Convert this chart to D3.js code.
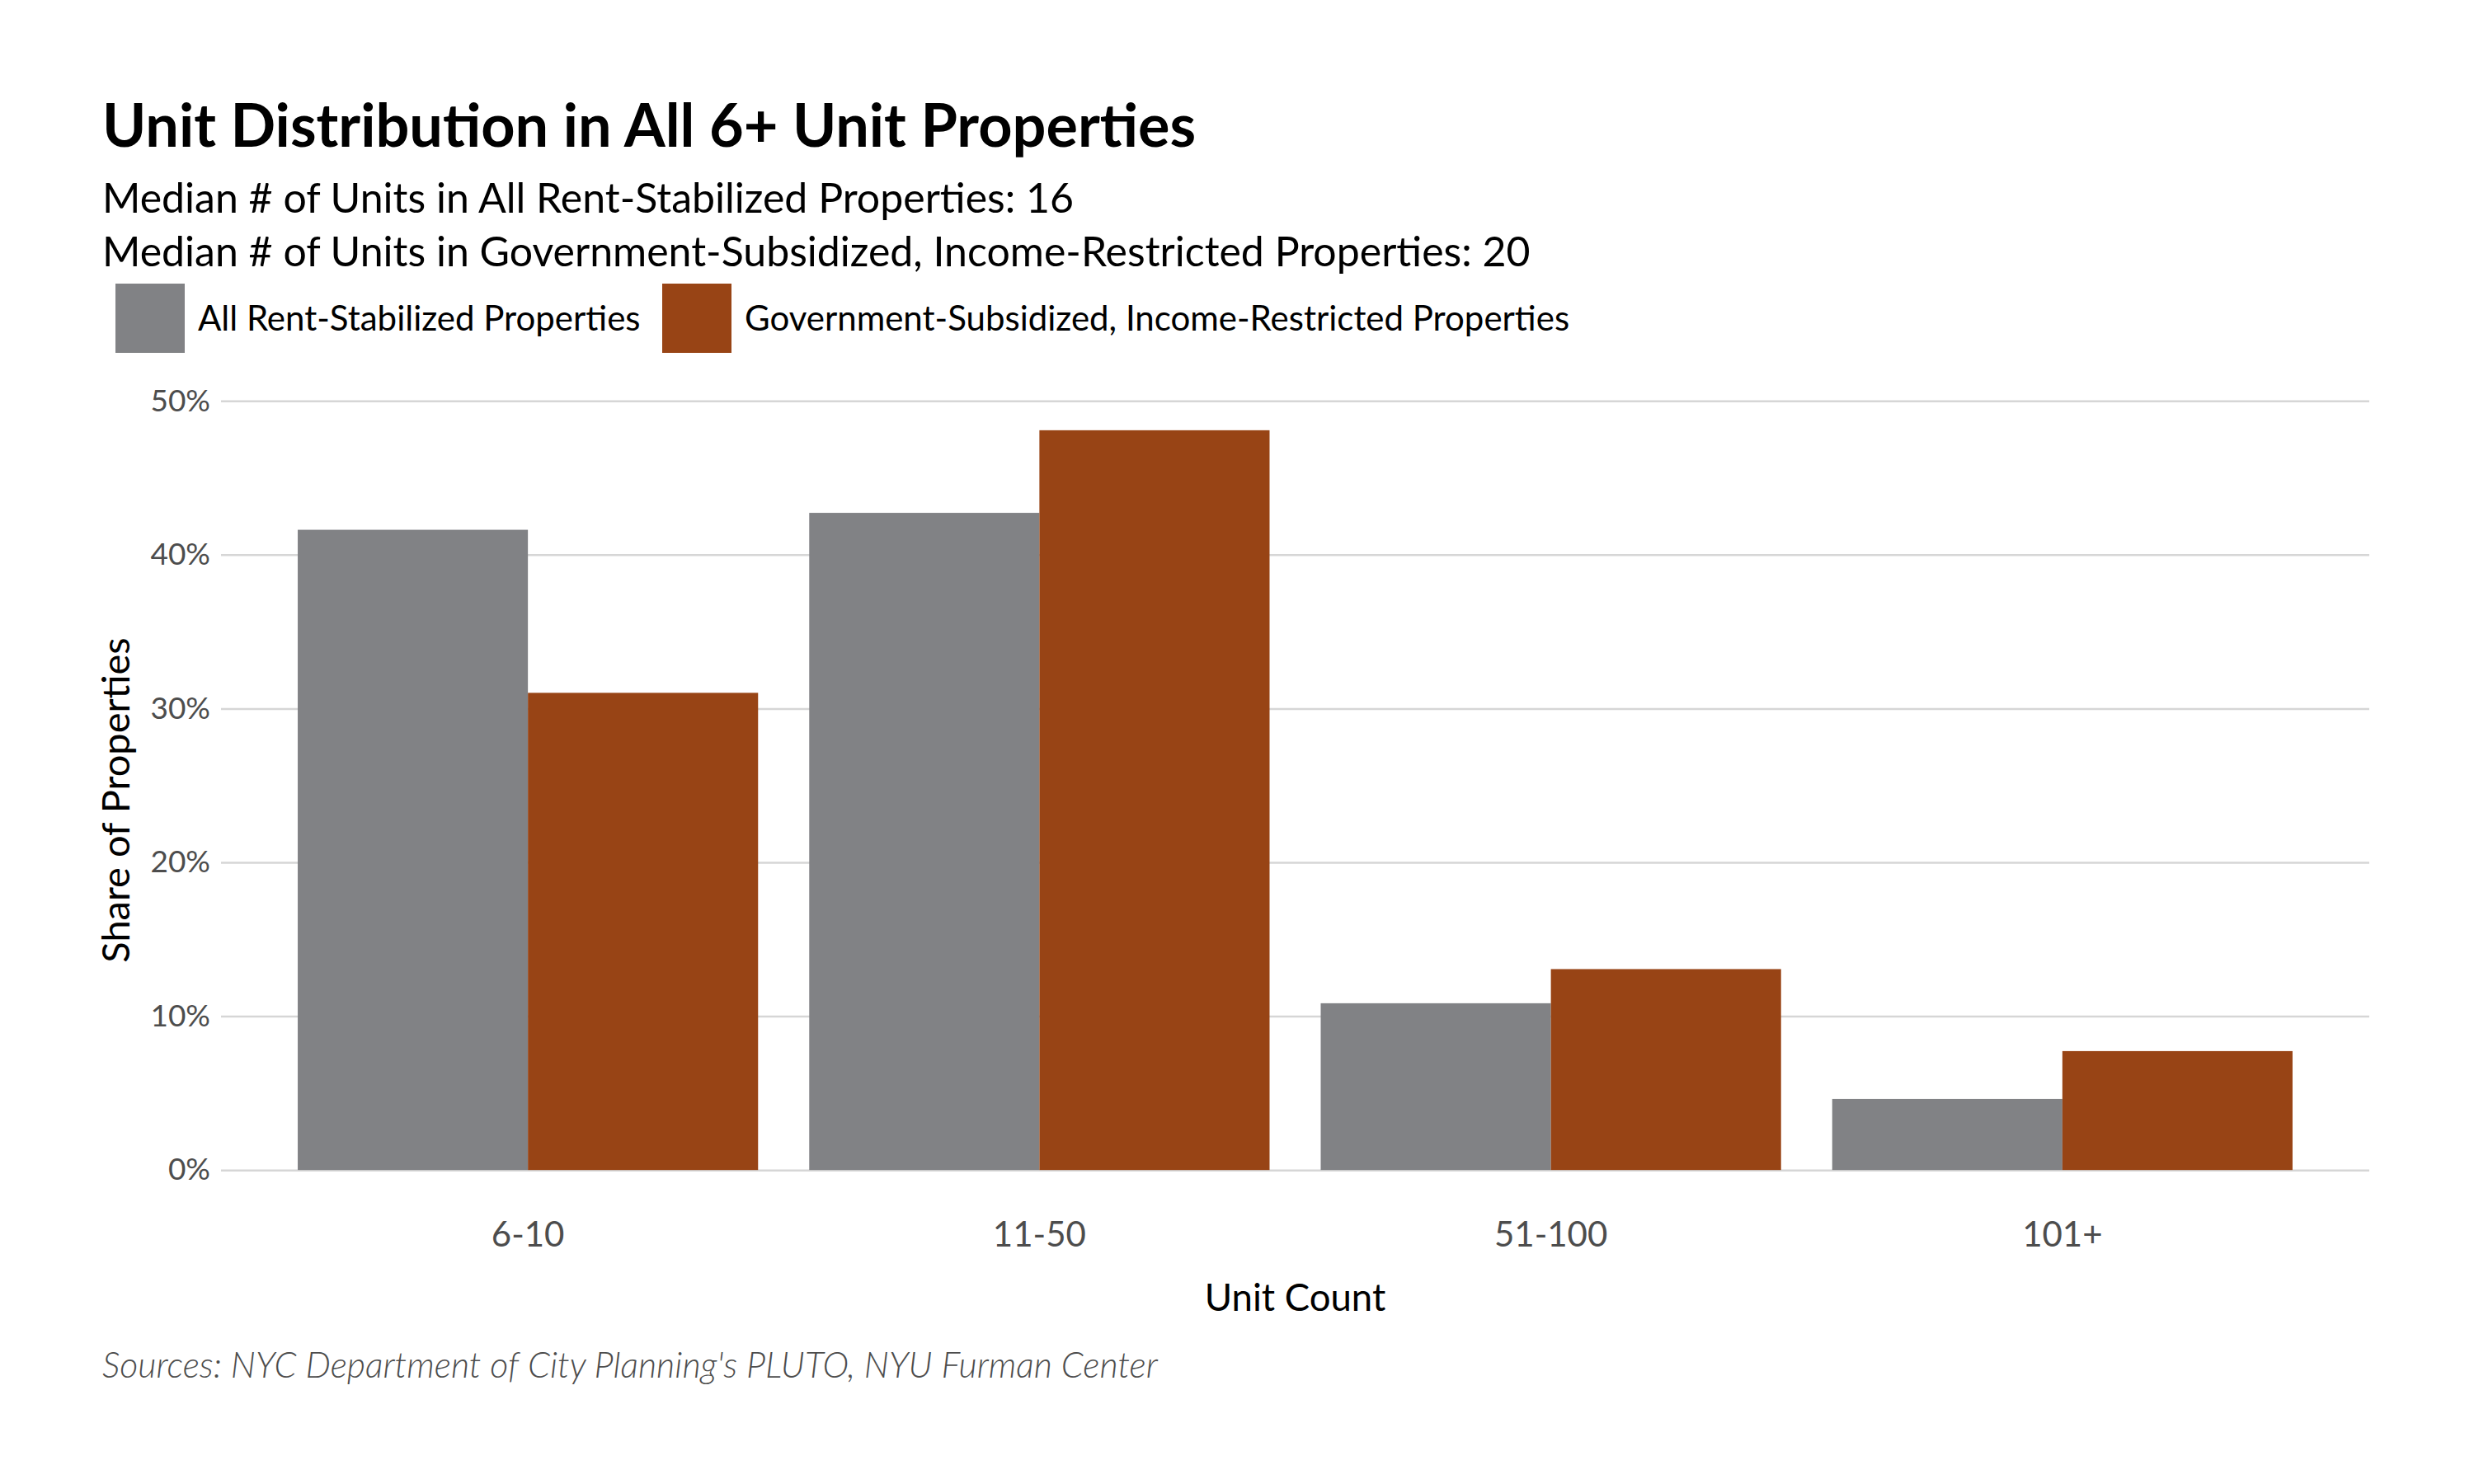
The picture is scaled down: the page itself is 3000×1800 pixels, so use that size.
<!DOCTYPE html>
<html>
<head>
<meta charset="utf-8">
<script src="https://cdnjs.cloudflare.com/ajax/libs/d3/7.8.5/d3.min.js"></script>
<style>
  body { margin: 0; background: #fff; }
  text { font-family: Lato, "Open Sans", sans-serif; }
</style>
</head>
<body>
<div id="chart"></div>
<script>
// chart data
var categories = ["6-10", "11-50", "51-100", "101+"];
var series = ["All Rent-Stabilized Properties", "Government-Subsidized, Income-Restricted Properties"];
var rentStabilized = [0.4162, 0.4272, 0.1084, 0.0462];
var subsidized = [0.3102, 0.4809, 0.1306, 0.0773];
var yTicks = [0, 0.1, 0.2, 0.3, 0.4, 0.5];
var colors = ["#818285", "#984415"];

var titleText = "Unit Distribution in All 6+ Unit Properties";
var subtitleLines = [
  "Median # of Units in All Rent-Stabilized Properties: 16",
  "Median # of Units in Government-Subsidized, Income-Restricted Properties: 20"
];
var captionText = "Sources: NYC Department of City Planning's PLUTO, NYU Furman Center";

var width = 3000, height = 1800;
var panel = {left: 268, right: 2873, top: 477, bottom: 1464};

var svg = d3.select("#chart").append("svg")
    .attr("width", width)
    .attr("height", height);

// title + subtitles
svg.append("text")
    .attr("x", 124).attr("y", 178)
    .style("font-size", "72px")
    .style("font-weight", 700)
    .text(titleText);

svg.selectAll(".subtitle")
    .data(subtitleLines)
    .enter().append("text")
    .attr("class", "subtitle")
    .attr("x", 124)
    .attr("y", function(d, i) { return 258 + i * 65; })
    .style("font-size", "50px")
    .text(function(d) { return d; });

// legend
var legendX = [140, 803];
var legend = svg.selectAll(".legend")
    .data(series)
    .enter().append("g")
    .attr("class", "legend")
    .attr("transform", function(d, i) { return "translate(" + legendX[i] + ",344)"; });

legend.append("rect")
    .attr("width", 84).attr("height", 84)
    .attr("fill", function(d, i) { return colors[i]; });

legend.append("text")
    .attr("x", 100).attr("y", 42)
    .attr("dy", "0.35em")
    .style("font-size", "42px")
    .text(function(d) { return d; });

// scales
var x0 = d3.scaleBand()
    .domain(categories)
    .range([panel.left, panel.right])
    .paddingInner(0.1)
    .paddingOuter(0.15);

var x1 = d3.scaleBand()
    .domain(series)
    .range([0, x0.bandwidth()]);

var ymax = d3.max(rentStabilized.concat(subsidized));
var y = d3.scaleLinear()
    .domain([-0.05 * ymax, 1.05 * ymax])
    .range([panel.bottom, panel.top]);

// y axis with gridlines
var yAxis = svg.append("g")
    .attr("transform", "translate(" + panel.left + ",0)")
    .call(d3.axisLeft(y)
      .tickValues(yTicks)
      .tickFormat(d3.format(".0%"))
      .tickSize(-(panel.right - panel.left))
      .tickPadding(13));

yAxis.select(".domain").remove();
yAxis.selectAll("line").attr("stroke", "#d6d6d6").attr("stroke-width", 2.5);
yAxis.selectAll("text")
    .style("font-family", "Lato, sans-serif")
    .style("font-size", "37px")
    .attr("fill", "#4d4d4d");

// bars
var rows = categories.map(function(c, i) {
  return {cat: c, values: [rentStabilized[i], subsidized[i]]};
});

var groups = svg.selectAll(".group")
    .data(rows)
    .enter().append("g")
    .attr("class", "group")
    .attr("transform", function(d) { return "translate(" + x0(d.cat) + ",0)"; });

groups.selectAll("rect")
    .data(function(d) { return d.values.map(function(v, i) { return {s: series[i], v: v, i: i}; }); })
    .enter().append("rect")
    .attr("x", function(d) { return x1(d.s); })
    .attr("width", x1.bandwidth())
    .attr("y", function(d) { return y(d.v); })
    .attr("height", function(d) { return y(0) - y(d.v); })
    .attr("fill", function(d) { return colors[d.i]; });

// x axis
var xAxis = svg.append("g")
    .attr("transform", "translate(0," + panel.bottom + ")")
    .call(d3.axisBottom(x0).tickSize(0).tickPadding(18));

xAxis.select(".domain").remove();
xAxis.selectAll("text")
    .style("font-family", "Lato, sans-serif")
    .style("font-size", "42px")
    .attr("fill", "#4d4d4d");

// axis titles
svg.append("text")
    .attr("x", (panel.left + panel.right) / 2)
    .attr("y", 1590)
    .attr("text-anchor", "middle")
    .style("font-size", "45.5px")
    .text("Unit Count");

svg.append("text")
    .attr("transform", "translate(157," + y(ymax / 2) + ") rotate(-90)")
    .attr("text-anchor", "middle")
    .style("font-size", "47px")
    .text("Share of Properties");

// caption
svg.append("text")
    .attr("x", 124).attr("y", 1671)
    .style("font-size", "43px")
    .style("font-style", "italic")
    .style("font-weight", 300)
    .attr("fill", "#4d4d4d")
    .text(captionText);
</script>
</body>
</html>
